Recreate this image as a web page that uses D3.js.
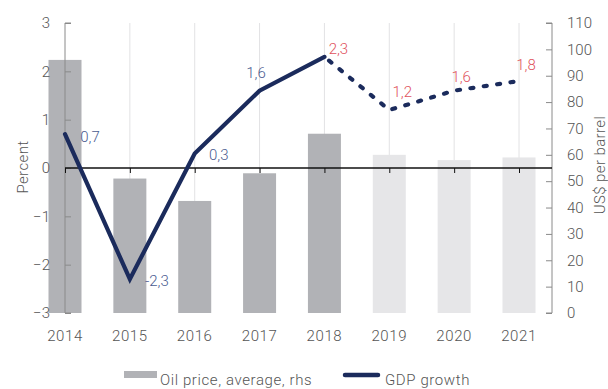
<!DOCTYPE html>
<html>
<head>
<meta charset="utf-8">
<script src="https://cdn.jsdelivr.net/npm/d3@7"></script>
<style>
  html, body { margin: 0; padding: 0; background: #fff; }
  svg text { font-family: Roboto, "DejaVu Sans", sans-serif; font-weight: 300; }
</style>
</head>
<body>
<svg id="chart" width="608" height="389"></svg>
<script>
// Years shown on the x axis
const years = ["2014", "2015", "2016", "2017", "2018", "2019", "2020", "2021"];
// Average oil price, US$ per barrel (right-hand scale)
const oilPrice = [96, 51, 42.5, 53, 68, 60, 58, 59];
// GDP growth, percent (left-hand scale)
const gdpGrowth = [0.7, -2.3, 0.3, 1.6, 2.3, 1.2, 1.6, 1.8];
// Labels printed next to each GDP point
const gdpLabels = ["0,7", "-2,3", "0,3", "1,6", "2,3", "1,2", "1,6", "1,8"];
// First forecast year (lighter bars, dotted line)
const forecastStart = "2019";
// First year whose growth label is shown as an estimate (red)
const estimateStart = "2018";
const leftTicks = [-3, -2, -1, 0, 1, 2, 3];
const rightTicks = [0, 10, 20, 30, 40, 50, 60, 70, 80, 90, 100, 110];

const svg = d3.select("#chart");
const plotTop = 23, plotBottom = 313, plotLeft = 65, plotRight = 552;

const x = d3.scalePoint().domain(years).range([65, 519]);
const yL = d3.scaleLinear().domain([-3, 3]).range([plotBottom, plotTop]);
const yR = d3.scaleLinear().domain([0, 110]).range([plotBottom, plotTop]);

const navy = "#1b2b5c";
const textCol = "#555";
const fi = years.indexOf(forecastStart);
const ei = years.indexOf(estimateStart);

// vertical grid lines
svg.append("g").selectAll("line").data(years.slice(1)).join("line")
  .attr("x1", d => x(d)).attr("x2", d => x(d))
  .attr("y1", plotTop).attr("y2", plotBottom)
  .attr("stroke", "#e2e2e4").attr("stroke-width", 1);

// oil price bars
const bw = 33;
svg.append("g").selectAll("rect").data(years).join("rect")
  .attr("x", d => x(d) - bw / 2)
  .attr("width", bw)
  .attr("y", (d, i) => yR(oilPrice[i]))
  .attr("height", (d, i) => yR(0) - yR(oilPrice[i]))
  .attr("fill", (d, i) => i >= fi ? "#e6e6e8" : "#b1b2b6");

// left axis
const axL = svg.append("g").attr("transform", `translate(${plotLeft},0)`)
  .call(d3.axisRight(yL).tickValues(leftTicks).tickSize(6).tickFormat(d3.format("d")));
axL.select(".domain").attr("stroke", "#8a8a8a").attr("d", `M6,${plotTop}H0V${plotBottom}H6`);
axL.selectAll(".tick line").attr("stroke", "#8a8a8a");
axL.selectAll(".tick text").attr("x", -15).attr("text-anchor", "end")
  .attr("fill", textCol).attr("font-size", 15);

// right axis
const axR = svg.append("g").attr("transform", `translate(${plotRight},0)`)
  .call(d3.axisLeft(yR).tickValues(rightTicks).tickSize(6));
axR.select(".domain").attr("stroke", "#8a8a8a").attr("d", `M-6,${plotTop}H0V${plotBottom}H-6`);
axR.selectAll(".tick line").attr("stroke", "#8a8a8a");
axR.selectAll(".tick text").attr("x", 15).attr("text-anchor", "start")
  .attr("fill", textCol).attr("font-size", 15);

// zero line with year ticks
const ax0 = svg.append("g").attr("transform", `translate(0,${yL(0)})`)
  .call(d3.axisBottom(x).tickSize(5).tickFormat(""));
ax0.select(".domain").attr("stroke", "#111").attr("stroke-width", 1.3)
  .attr("d", `M${plotLeft},0H${plotRight}`);
ax0.selectAll(".tick line").attr("stroke", "#111");

// year labels
svg.append("g").selectAll("text").data(years).join("text")
  .attr("x", d => x(d)).attr("y", 341)
  .attr("text-anchor", "middle").attr("fill", textCol).attr("font-size", 15)
  .attr("letter-spacing", 0.6)
  .text(d => d);

// GDP line: solid for history, dotted for forecast
const pts = years.map((d, i) => ({ year: d, v: gdpGrowth[i] }));
const line = d3.line().x(d => x(d.year)).y(d => yL(d.v));
svg.append("path").datum(pts.slice(0, fi))
  .attr("d", line).attr("fill", "none").attr("stroke", navy)
  .attr("stroke-width", 4.2).attr("stroke-linejoin", "miter").attr("stroke-linecap", "round");
svg.append("path").datum(pts.slice(fi - 1))
  .attr("d", line).attr("fill", "none").attr("stroke", navy)
  .attr("stroke-width", 4.2).attr("stroke-linecap", "round")
  .attr("stroke-dasharray", "3,10.5").attr("stroke-dashoffset", -6);

// value labels (offsets from each point to the label centre)
const labelOffset = [[25, 3], [27, 2], [24, 1.5], [-3.5, -18], [14, -8], [13, -18], [7, -14], [7, -16]];
svg.append("g").selectAll("text").data(pts).join("text")
  .attr("x", (d, i) => x(d.year) + labelOffset[i][0])
  .attr("y", (d, i) => yL(d.v) + labelOffset[i][1])
  .attr("text-anchor", "middle")
  .attr("dy", "0.35em")
  .attr("fill", (d, i) => i >= ei ? "#e0525c" : "#4a5b90")
  .attr("font-size", 15)
  .text((d, i) => gdpLabels[i]);

// axis titles
svg.append("text").attr("transform", "translate(28,167) rotate(-90)")
  .attr("text-anchor", "middle").attr("fill", textCol).attr("font-size", 15)
  .attr("letter-spacing", 0.4)
  .text("Percent");
svg.append("text").attr("transform", "translate(605,165) rotate(-90)")
  .attr("text-anchor", "middle").attr("fill", textCol).attr("font-size", 15)
  .attr("letter-spacing", 0.4)
  .text("US$ per barrel");

// legend
const lg = svg.append("g");
lg.append("rect").attr("x", 124).attr("y", 371).attr("width", 33).attr("height", 7).attr("fill", "#b1b2b6");
lg.append("text").attr("x", 160).attr("y", 385).attr("fill", textCol).attr("font-size", 15)
  .attr("letter-spacing", 0.6)
  .text("Oil price, average, rhs");
lg.append("line").attr("x1", 345).attr("x2", 378).attr("y1", 375).attr("y2", 375)
  .attr("stroke", navy).attr("stroke-width", 4.5).attr("stroke-linecap", "round");
lg.append("text").attr("x", 385).attr("y", 385).attr("fill", textCol).attr("font-size", 15)
  .attr("letter-spacing", 0.6)
  .text("GDP growth");
</script>
</body>
</html>
